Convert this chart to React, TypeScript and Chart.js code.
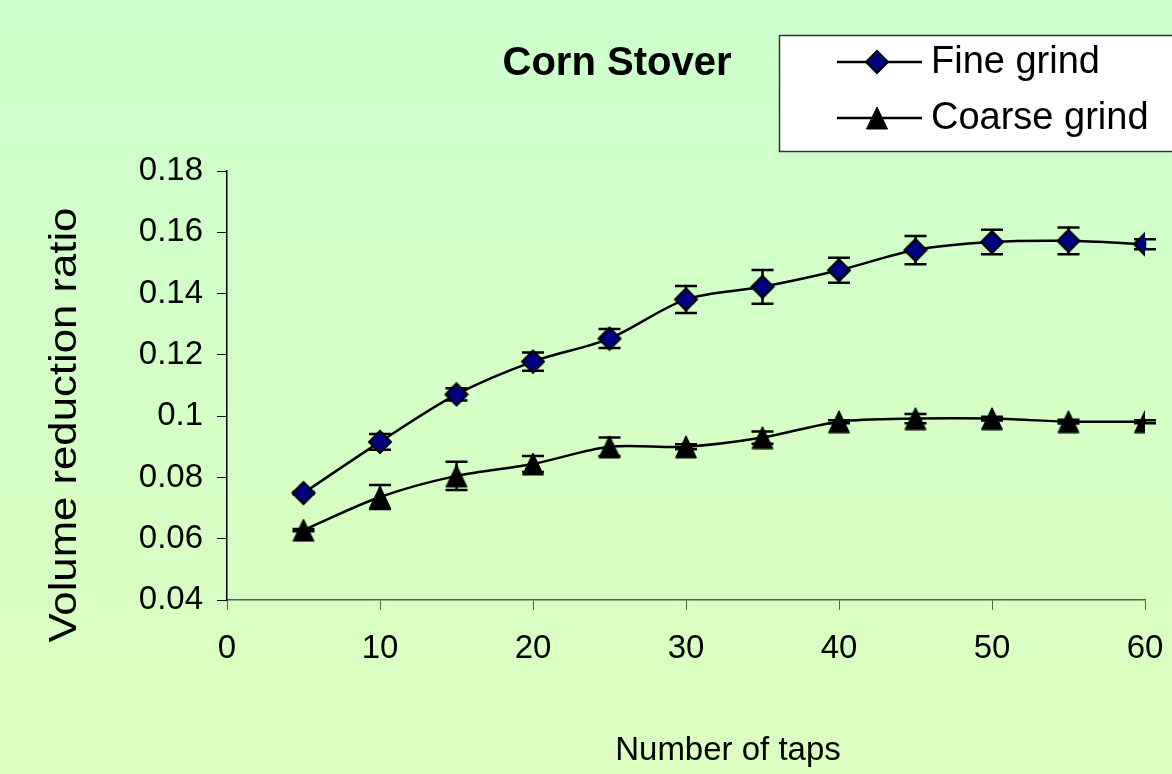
import React, { useEffect, useRef } from 'react';
import { Chart, registerables } from 'chart.js';

Chart.register(...registerables);

const taps = [5, 10, 15, 20, 25, 30, 35, 40, 45, 50, 55, 60];
const fineGrind = [0.0749, 0.0916, 0.1071, 0.1178, 0.1253, 0.1381, 0.1422, 0.1476, 0.1542, 0.1568, 0.1572, 0.1561];
const fineGrindErr = [0.0004, 0.0026, 0.002, 0.003, 0.0031, 0.0044, 0.0055, 0.0041, 0.0046, 0.004, 0.0044, 0.0016];
const coarseGrind = [0.0628, 0.0736, 0.0805, 0.0844, 0.09, 0.09, 0.093, 0.0982, 0.0992, 0.0992, 0.0982, 0.0982];
const coarseGrindErr = [0.0004, 0.0039, 0.0046, 0.0026, 0.003, 0.0008, 0.002, 0.0005, 0.0015, 0.0006, 0.0006, 0.0005];
const xTickValues = [0, 10, 20, 30, 40, 50, 60];
const yTickValues = [0.04, 0.06, 0.08, 0.1, 0.12, 0.14, 0.16, 0.18];
const yTickLabels = ['0.04', '0.06', '0.08', '0.1', '0.12', '0.14', '0.16', '0.18'];
const seriesLabels = ['Fine grind', 'Coarse grind'];
const chartTitle = 'Corn Stover';
const xTitle = 'Number of taps';
const yTitle = 'Volume reduction ratio';

const FONT = "'Liberation Sans', Arial, sans-serif";

function makeDiamond(): HTMLCanvasElement {
  const c = document.createElement('canvas');
  c.width = 26;
  c.height = 26;
  const g = c.getContext('2d')!;
  g.beginPath();
  g.moveTo(13, 2);
  g.lineTo(24, 13);
  g.lineTo(13, 24);
  g.lineTo(2, 13);
  g.closePath();
  g.fillStyle = '#000080';
  g.fill();
  g.lineWidth = 2;
  g.strokeStyle = '#000';
  g.stroke();
  return c;
}

function makeTriangle(): HTMLCanvasElement {
  const c = document.createElement('canvas');
  c.width = 24;
  c.height = 24;
  const g = c.getContext('2d')!;
  g.beginPath();
  g.moveTo(12, 1);
  g.lineTo(22.5, 23);
  g.lineTo(1.5, 23);
  g.closePath();
  g.fillStyle = '#000';
  g.fill();
  g.lineWidth = 1;
  g.strokeStyle = '#000';
  g.stroke();
  return c;
}

export default function App() {
  const ref = useRef<HTMLCanvasElement | null>(null);

  useEffect(() => {
    const canvas = ref.current;
    if (!canvas) return;
    const diamond = makeDiamond();
    const triangle = makeTriangle();
    const markers = [diamond, triangle];
    const errs = [fineGrindErr, coarseGrindErr];

    const background = {
      id: 'bg',
      beforeDraw(chart: any) {
        const { ctx, width, height } = chart;
        const g = ctx.createLinearGradient(0, 0, 0, height);
        g.addColorStop(0, '#ccffcc');
        g.addColorStop(1, '#dcffc0');
        ctx.save();
        ctx.fillStyle = g;
        ctx.fillRect(0, 0, width, height);
        ctx.restore();
      },
    };

    const errorBars = {
      id: 'errorBars',
      beforeDatasetsDraw(chart: any) {
        const ctx = chart.ctx;
        const xs = chart.scales.x;
        const ys = chart.scales.y;
        ctx.save();
        ctx.strokeStyle = '#000';
        ctx.lineWidth = 2.5;
        chart.data.datasets.forEach((ds: any, i: number) => {
          ds.data.forEach((p: any, j: number) => {
            const e = errs[i][j];
            const x = xs.getPixelForValue(p.x);
            const yt = ys.getPixelForValue(p.y + e);
            const yb = ys.getPixelForValue(p.y - e);
            ctx.beginPath();
            ctx.moveTo(x, yt);
            ctx.lineTo(x, yb);
            ctx.moveTo(x - 11, yt);
            ctx.lineTo(x + 11, yt);
            ctx.moveTo(x - 11, yb);
            ctx.lineTo(x + 11, yb);
            ctx.stroke();
          });
        });
        ctx.restore();
      },
    };

    const overlay = {
      id: 'overlay',
      afterDraw(chart: any) {
        const ctx = chart.ctx;
        ctx.save();
        // chart title
        ctx.fillStyle = '#000';
        ctx.font = `bold 40px ${FONT}`;
        ctx.textAlign = 'center';
        ctx.textBaseline = 'alphabetic';
        ctx.fillText(chartTitle, 617, 75);
        // x axis title
        ctx.font = `33px ${FONT}`;
        ctx.fillText(xTitle, 728, 760);
        // y axis title
        ctx.save();
        ctx.translate(76, 425);
        ctx.rotate(-Math.PI / 2);
        ctx.scale(1.15, 1);
        ctx.font = `38px ${FONT}`;
        ctx.textAlign = 'center';
        ctx.textBaseline = 'alphabetic';
        ctx.fillText(yTitle, 0, 0);
        ctx.restore();
        // legend box
        ctx.fillStyle = '#ffffff';
        ctx.fillRect(779.5, 35.5, 420, 116);
        ctx.strokeStyle = '#333';
        ctx.lineWidth = 1.5;
        ctx.strokeRect(779.5, 35.5, 420, 116);
        const rows = [62, 118];
        rows.forEach((y, i) => {
          ctx.strokeStyle = '#000';
          ctx.lineWidth = 2.5;
          ctx.beginPath();
          ctx.moveTo(837, y);
          ctx.lineTo(922, y);
          ctx.stroke();
          const m = markers[i];
          ctx.drawImage(m, 877 - m.width / 2, y - m.height / 2);
          ctx.fillStyle = '#000';
          ctx.font = `38px ${FONT}`;
          ctx.textAlign = 'left';
          ctx.textBaseline = 'alphabetic';
          ctx.fillText(seriesLabels[i], 931, y + 11);
        });
        ctx.restore();
      },
    };

    const chart = new Chart(canvas, {
      type: 'line',
      data: {
        datasets: [
          {
            label: seriesLabels[0],
            data: taps.map((x, i) => ({ x, y: fineGrind[i] })),
            borderColor: '#000',
            borderWidth: 2.5,
            tension: 0.3,
            pointStyle: diamond as any,
            pointRadius: 12,
            fill: false,
          },
          {
            label: seriesLabels[1],
            data: taps.map((x, i) => ({ x, y: coarseGrind[i] })),
            borderColor: '#000',
            borderWidth: 2.5,
            tension: 0.3,
            pointStyle: triangle as any,
            pointRadius: 12,
            fill: false,
          },
        ],
      },
      options: {
        animation: false,
        responsive: false,
        events: [],
        layout: { padding: { top: 171, right: 27, left: 0, bottom: 0 } },
        plugins: {
          legend: { display: false },
          title: { display: false },
          tooltip: { enabled: false },
        },
        scales: {
          x: {
            type: 'linear',
            min: 0,
            max: 60,
            afterBuildTicks: (s: any) => {
              s.ticks = xTickValues.map((v) => ({ value: v }));
            },
            afterFit: (s: any) => {
              s.height = 174;
              s.paddingLeft = 0;
              s.paddingRight = 0;
            },
            grid: { drawOnChartArea: false, drawTicks: true, tickLength: 10, color: '#506050' },
            border: { color: '#506050', width: 1.5 },
            ticks: {
              color: '#000',
              font: { family: FONT, size: 33 },
              padding: 19,
              maxRotation: 0,
              autoSkip: false,
            },
            title: { display: false },
          },
          y: {
            type: 'linear',
            min: 0.04,
            max: 0.18,
            afterBuildTicks: (s: any) => {
              s.ticks = yTickValues.map((v) => ({ value: v }));
            },
            afterFit: (s: any) => {
              s.width = 227;
              s.paddingTop = 0;
              s.paddingBottom = 0;
            },
            grid: { drawOnChartArea: false, drawTicks: true, tickLength: 10, color: '#000' },
            border: { color: '#000', width: 1.5 },
            ticks: {
              color: '#000',
              font: { family: FONT, size: 33 },
              padding: 14,
              autoSkip: false,
              callback: (_v: any, i: number) => yTickLabels[i],
            },
            title: { display: false },
          },
        },
      },
      plugins: [background, errorBars, overlay],
    } as any);

    return () => chart.destroy();
  }, []);

  return (
    <div style={{ position: 'fixed', left: 0, top: 0, width: 1172, height: 774 }}>
      <canvas ref={ref} width={1172} height={774} style={{ display: 'block' }} />
    </div>
  );
}
